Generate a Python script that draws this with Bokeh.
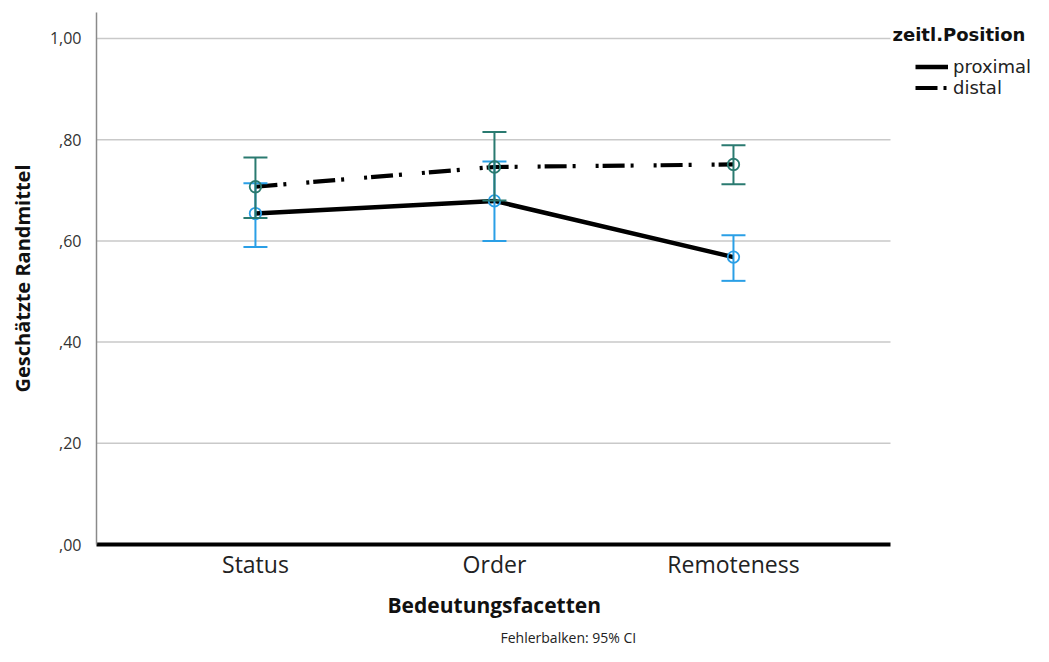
from bokeh.plotting import figure
from bokeh.models import Range1d, FixedTicker, Legend, LegendItem, Label, Title
from bokeh.embed import file_html
from bokeh.resources import INLINE

categories = ["Status", "Order", "Remoteness"]
series_names = ["proximal", "distal"]

proximal_mean = [0.654, 0.679, 0.568]
proximal_lower = [0.588, 0.600, 0.521]
proximal_upper = [0.714, 0.757, 0.611]

distal_mean = [0.707, 0.746, 0.751]
distal_lower = [0.645, 0.680, 0.712]
distal_upper = [0.765, 0.815, 0.789]

y_ticks = [0.0, 0.2, 0.4, 0.6, 0.8, 1.0]
y_tick_labels = [",00", ",20", ",40", ",60", ",80", "1,00"]

x_title = "Bedeutungsfacetten"
y_title = "Geschätzte Randmittel"
legend_title = "zeitl.Position"
footnote = "Fehlerbalken: 95% CI"

BLUE = "#2a9fe6"
TEAL = "#2a7a70"
FONT = "Open Sans"
FONT2 = "DejaVu Sans"

W, H = 1033, 646
L, R, T, B = 96, 0, 12, 101
x0, x1 = -0.665, 2.657
y0, y1 = 0.0, 1.0513
PLOT_W = 794
fw = W - L - R
fh = H - T - B
x_end = x0 + fw * (x1 - x0) / PLOT_W

p = figure(width=W, height=H, output_backend="svg", toolbar_location=None,
           x_range=Range1d(x0, x_end), y_range=Range1d(y0, y1),
           min_border_left=L, min_border_right=R, min_border_top=T, min_border_bottom=B)
p.outline_line_color = None
p.background_fill_color = "white"
p.border_fill_color = "white"
p.grid.visible = False

xs = list(range(len(categories)))

gy = y_ticks[1:]
p.segment(x0=[x0] * len(gy), y0=gy, x1=[x1] * len(gy), y1=gy,
          line_color="#c9c9c9", line_width=1.5)

p.xaxis.bounds = (x0, x1)
p.xaxis.ticker = FixedTicker(ticks=xs)
p.xaxis.major_label_overrides = {i: c for i, c in enumerate(categories)}
p.xaxis.major_tick_line_color = None
p.xaxis.minor_tick_line_color = None
p.xaxis.axis_line_color = "black"
p.xaxis.axis_line_width = 4
p.xaxis.major_label_text_font = FONT
p.xaxis.major_label_text_font_size = "23px"
p.xaxis.major_label_text_color = "#222222"
p.xaxis.major_label_standoff = -3

p.yaxis.ticker = FixedTicker(ticks=y_ticks)
p.yaxis.major_label_overrides = {t: s for t, s in zip(y_ticks, y_tick_labels)}
p.yaxis.major_tick_line_color = None
p.yaxis.minor_tick_line_color = None
p.yaxis.axis_line_color = "#8a8a8a"
p.yaxis.axis_line_width = 1.5
p.yaxis.major_label_text_font = FONT
p.yaxis.major_label_text_font_size = "16px"
p.yaxis.major_label_text_color = "#333333"
p.yaxis.major_label_standoff = 9
p.yaxis.axis_label = y_title
p.yaxis.axis_label_text_font = FONT
p.yaxis.axis_label_text_font_style = "bold"
p.yaxis.axis_label_text_font_size = "20px"
p.yaxis.axis_label_text_color = "#111111"
p.yaxis.axis_label_standoff = 11

r_prox = p.line(xs, proximal_mean, line_color="black", line_width=4.5)
r_dist = p.line(xs, distal_mean, line_color="black", line_width=4.2,
                line_dash="22 6 3 20 3 4")

for lo, hi, m, c in [(proximal_lower, proximal_upper, proximal_mean, BLUE),
                     (distal_lower, distal_upper, distal_mean, TEAL)]:
    p.segment(x0=xs, y0=lo, x1=xs, y1=hi, line_color=c, line_width=2)
    p.scatter(xs, lo, marker="dash", size=24, line_color=c, line_width=2)
    p.scatter(xs, hi, marker="dash", size=24, line_color=c, line_width=2)
    p.scatter(xs, m, marker="circle", size=11.5, fill_color=None, line_color=c, line_width=1.8)

legend = Legend(items=[LegendItem(label=series_names[0], renderers=[r_prox]),
                       LegendItem(label=series_names[1], renderers=[r_dist])],
                location=(819, 446), orientation="vertical")
legend.glyph_width = 33
legend.glyph_height = 19
legend.label_height = 19
legend.spacing = -6
legend.padding = 0
legend.margin = 0
legend.label_standoff = 5
legend.label_text_font = FONT2
legend.label_text_font_size = "18px"
legend.label_text_color = "#222222"
legend.border_line_color = None
legend.background_fill_alpha = 0
p.add_layout(legend, "center")

def dx(px):
    return x0 + (px - L) / PLOT_W * (x1 - x0)

def dy(py):
    return y0 + (T + fh - py) / fh * (y1 - y0)

p.add_layout(Label(x=dx(892), y=dy(34), text=legend_title, text_font=FONT2,
                   text_font_style="bold", text_font_size="18px", text_color="#111111",
                   text_baseline="middle", text_align="left"))

p.add_layout(Title(text=x_title, align="left", offset=291, text_font=FONT,
                   text_font_style="bold", text_font_size="21px",
                   text_color="#111111", standoff=13), "below")
p.add_layout(Title(text=footnote, align="left", offset=404, text_font=FONT,
                   text_font_style="normal", text_font_size="14px",
                   text_color="#222222", standoff=0), "below")

open("out.html", "w").write(file_html(p, INLINE))
